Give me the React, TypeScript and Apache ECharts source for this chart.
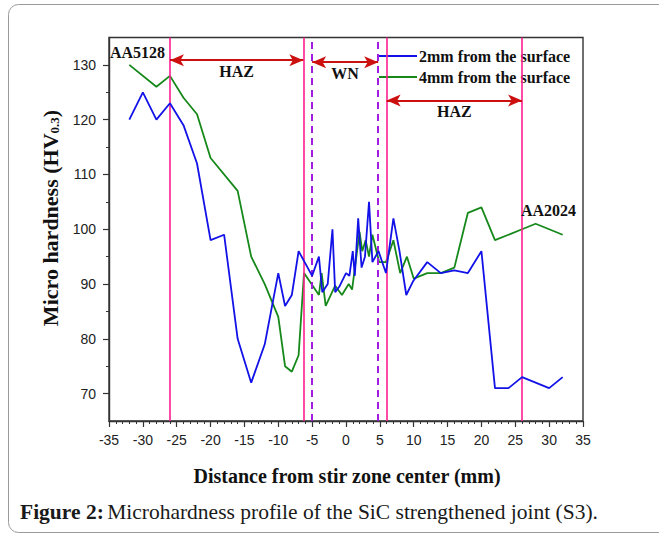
import React, { useEffect, useRef } from "react";
import * as echarts from "echarts";

const SERIF = '"Liberation Serif", "Times New Roman", serif';
const SANS = '"Liberation Sans", Arial, sans-serif';

// Hardness profiles across the joint
const seriesNames = ["2mm from the surface", "4mm from the surface"];

const dist2mm = [
  -32, -30, -28, -26, -24, -22, -20, -18, -16, -14, -12, -10, -9, -8, -7, -5, -4, -3.5, -2.7, -2,
  -1.6, -1, 0, 0.5, 1, 1.3, 1.8, 2.3, 2.8, 3.4, 3.9, 4.8, 5.9, 7, 7.9, 8.9, 9.9, 12, 14, 16, 18,
  20, 22, 24, 26, 30, 32,
];
const hv2mm = [
  120, 125, 120, 123, 119, 112, 98, 99, 80, 72, 79, 92, 86, 88, 96, 91.5, 95, 88.5, 90, 100, 88.5,
  89.5, 92, 91.5, 96, 91.5, 102, 93, 95, 105, 94, 96, 92, 102, 96, 88, 90.5, 94, 92, 92.5, 92, 96,
  71, 71, 73, 71, 73,
];

const dist4mm = [
  -32, -28, -26, -24, -22, -20, -16, -14, -12, -10, -9, -8, -7, -6.2, -4, -3.6, -3, -1.6, -0.6,
  0.4, 0.9, 2, 2.4, 2.9, 3.4, 3.9, 4.9, 5.9, 7, 8, 9, 10, 12, 14, 16, 18, 20, 22, 26, 28, 32,
];
const hv4mm = [
  130, 126, 128, 124, 121, 113, 107, 95, 90, 84, 75, 74, 77, 92, 88, 92, 86, 89.7, 88, 90, 89, 99.5,
  96, 98, 95, 99, 94, 94, 98, 92, 95, 91, 92, 92, 93, 103, 104, 98, 100, 101, 99,
];

// Axis ticks
const xTickLabels = [-35, -30, -25, -20, -15, -10, -5, 0, 5, 10, 15, 20, 25, 30, 35];
const yMajorTicks = [70, 80, 90, 100, 110, 120, 130];
const yMinorTicks = [75, 85, 95, 105, 115, 125];

// Zone boundaries (mm)
const hazBoundaries = [-26, -6.3, 6, 26];
const nuggetBoundaries = [-5, 4.75];

// Zone extents drawn as double arrows (from, to, hardness level)
const zoneNames = ["HAZ", "WN", "HAZ"];
const zoneFrom = [-26, -5, 6];
const zoneTo = [-6.3, 4.75, 26];
const zoneLevel = [130.85, 130.5, 123.5];

// Base-material labels
const materialNames = ["AA5128", "AA2024"];
const materialX = [-30.8, 29.9];
const materialY = [132.2, 103.4];

const BLUE = "#1212e8";
const GREEN = "#16891a";
const PINK = "#ff1f8f";
const PURPLE = "#a21ce0";
const ARROW = "#cc1010";
const AXIS = "#333333";

export default function App() {
  const ref = useRef<HTMLDivElement>(null);

  useEffect(() => {
    if (!ref.current) return;
    const chart = echarts.init(ref.current, undefined, { renderer: "svg" });

    const boldSerif = { fontFamily: SERIF, fontWeight: "bold" as const, color: "#111" };

    const option: echarts.EChartsOption = {
      animation: false,
      backgroundColor: "#ffffff",
      grid: {
        left: 109,
        right: 76,
        top: 37.5,
        bottom: 117,
        show: true,
        borderColor: AXIS,
        borderWidth: 1.4,
      },
      legend: {
        data: seriesNames.map((n) => ({ name: n, icon: "rect" })),
        orient: "vertical",
        left: 374,
        top: 43,
        itemWidth: 38,
        itemHeight: 2,
        itemGap: 5,
        textStyle: { ...boldSerif, fontSize: 16, lineHeight: 16, padding: [0, 0, 0, -3] },
      },
      xAxis: {
        type: "value",
        min: xTickLabels[0],
        max: xTickLabels[xTickLabels.length - 1],
        interval: 5,
        axisLine: { onZero: false, lineStyle: { color: AXIS, width: 1.4 } },
        axisTick: { length: 6, lineStyle: { color: AXIS, width: 1.2 } },
        minorTick: { show: true, splitNumber: 5, length: 3, lineStyle: { color: AXIS, width: 1 } },
        axisLabel: { fontFamily: SANS, fontSize: 14, color: "#222", margin: 12 },
        splitLine: { show: false },
      },
      yAxis: [
        {
          type: "value",
          min: 65,
          max: 135,
          position: "left",
          axisLine: { show: true, onZero: false, lineStyle: { color: AXIS, width: 1.4 } },
          axisTick: {
            show: true,
            length: 6,
            customValues: yMajorTicks,
            lineStyle: { color: AXIS, width: 1.2 },
          },
          axisLabel: {
            fontFamily: SANS,
            fontSize: 14,
            color: "#222",
            margin: 13,
            customValues: yMajorTicks,
          },
          splitLine: { show: false },
        },
        {
          type: "value",
          min: 65,
          max: 135,
          position: "left",
          axisLine: { show: false, onZero: false },
          axisTick: {
            show: true,
            length: 3,
            customValues: yMinorTicks,
            lineStyle: { color: AXIS, width: 1 },
          },
          axisLabel: { show: false },
          splitLine: { show: false },
        },
      ],
      series: [
        {
          name: seriesNames[0],
          type: "line",
          data: dist2mm.map((x, i) => [x, hv2mm[i]]),
          symbol: "none",
          color: BLUE,
          lineStyle: { color: BLUE, width: 1.8 },
          z: 5,
        },
        {
          name: seriesNames[1],
          type: "line",
          data: dist4mm.map((x, i) => [x, hv4mm[i]]),
          symbol: "none",
          color: GREEN,
          lineStyle: { color: GREEN, width: 1.8 },
          z: 4,
        },
        {
          // zone boundaries
          type: "line",
          data: [],
          z: 3,
          markLine: {
            silent: true,
            symbol: "none",
            label: { show: false },
            data: [
              ...hazBoundaries.map((v) => ({
                xAxis: v,
                lineStyle: { color: PINK, width: 1.6, type: "solid" as const },
              })),
              ...nuggetBoundaries.map((v) => ({
                xAxis: v,
                lineStyle: { color: PURPLE, width: 2, type: [7, 5] as any },
              })),
            ],
          },
        },
        {
          // zone extents and material labels
          type: "line",
          data: [],
          z: 6,
          markLine: {
            silent: true,
            symbol: ["arrow", "arrow"],
            symbolSize: [9, 14],
            lineStyle: { color: ARROW, width: 1.8, type: "solid" },
            label: {
              show: true,
              position: "insideMiddleBottom",
              distance: 3,
              formatter: (p: any) => p.name,
              ...boldSerif,
              fontSize: 16,
            },
            data: zoneNames.map((n, i) => [
              { name: n, coord: [zoneFrom[i], zoneLevel[i]] },
              { coord: [zoneTo[i], zoneLevel[i]] },
            ]) as any,
          },
          markPoint: {
            silent: true,
            symbolSize: 0,
            label: {
              show: true,
              position: "inside",
              formatter: (p: any) => p.name,
              ...boldSerif,
              fontSize: 16,
            },
            data: materialNames.map((n, i) => ({ name: n, coord: [materialX[i], materialY[i]] })),
          },
        },
      ],
      graphic: [
        {
          type: "rect",
          shape: { x: 8.5, y: 4.5, width: 700, height: 528, r: 10 },
          style: { fill: "none", stroke: "#9a9a9a", lineWidth: 1 },
          silent: true,
          z: -1,
        },
        {
          type: "text",
          x: 347,
          y: 476,
          style: {
            text: "Distance from stir zone center (mm)",
            font: `bold 20px ${SERIF}`,
            fill: "#111",
            align: "center",
            verticalAlign: "middle",
          },
        },
        {
          type: "text",
          x: 50,
          y: 218,
          rotation: Math.PI / 2,
          style: {
            text: "{a|Micro hardness (HV}{s|0.3}{a|)}",
            align: "center",
            verticalAlign: "middle",
            rich: {
              a: {
                fontFamily: SERIF,
                fontWeight: "bold",
                fontSize: 22,
                lineHeight: 22,
                verticalAlign: "top",
                fill: "#111",
              },
              s: {
                fontFamily: SERIF,
                fontWeight: "bold",
                fontSize: 13,
                lineHeight: 13,
                verticalAlign: "bottom",
                padding: [13, 0, 0, 0],
                fill: "#111",
              },
            } as any,
          },
        },
        {
          type: "text",
          x: 20,
          y: 512,
          style: {
            text: "{b|Figure 2:} {r|Microhardness profile of the SiC strengthened joint (S3).}",
            verticalAlign: "middle",
            rich: {
              b: { fontFamily: SERIF, fontWeight: "bold", fontSize: 21.5, fill: "#1a1a1a" },
              r: { fontFamily: SERIF, fontSize: 21.5, fill: "#1a1a1a" },
            } as any,
          },
        },
      ],
    };

    chart.setOption(option);
    return () => chart.dispose();
  }, []);

  return (
    <div
      ref={ref}
      style={{ position: "fixed", left: 0, top: 0, width: 659, height: 538, background: "#fff" }}
    />
  );
}
